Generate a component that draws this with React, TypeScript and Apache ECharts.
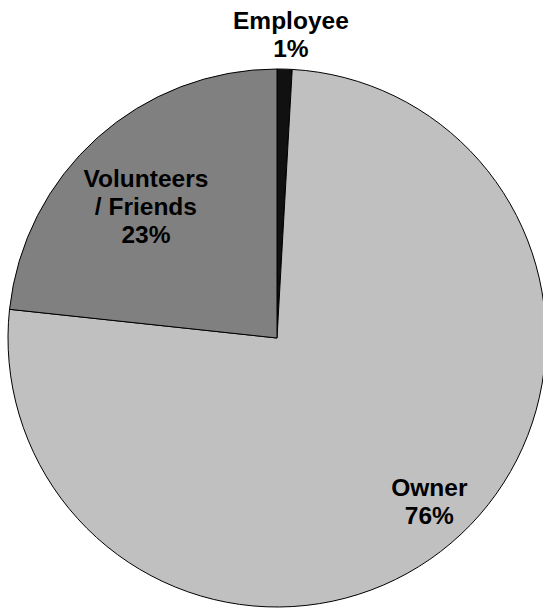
import React, { useEffect, useRef } from 'react';
import * as echarts from 'echarts';

// slice data, clockwise from 12 o'clock
const names = ['Employee', 'Owner', 'Volunteers\n/ Friends'];
const values = [0.9, 75.8, 23.3];
const colors = ['#111111', '#c0c0c0', '#808080'];
// where each label sits: share of the radius, and a small turn off the slice's mid angle
const labelRadius = [1.13, 0.83, 0.69];
const labelTurn = [1, -2.7, -3];

const CX = 277;
const CY = 338;
const R = 269;

const App = () => {
    const chartRef = useRef<HTMLDivElement>(null);

    useEffect(() => {
        const chart = echarts.init(chartRef.current, null, { renderer: 'svg' });

        const total = values.reduce((a, b) => a + b, 0);
        // mid angle of each slice (degrees clockwise from top)
        const midAngles: number[] = [];
        let acc = 0;
        values.forEach((v) => {
            const span = (v / total) * 360;
            midAngles.push(acc + span / 2);
            acc += span;
        });

        chart.setOption({
            animation: false,
            backgroundColor: '#ffffff',
            series: [
                {
                    type: 'pie',
                    center: [CX, CY],
                    radius: R,
                    startAngle: 90,
                    clockwise: true,
                    avoidLabelOverlap: false,
                    itemStyle: { borderColor: '#000000', borderWidth: 1 },
                    label: {
                        show: true,
                        position: 'inside',
                        color: '#000000',
                        fontFamily: 'Liberation Sans, Arial, sans-serif',
                        fontWeight: 'bold',
                        fontSize: 24.5,
                        lineHeight: 28,
                        align: 'center',
                        formatter: (p: any) => p.name + '\n' + Math.round(p.value) + '%',
                    },
                    labelLine: { show: false },
                    labelLayout: (p: any) => {
                        const a = ((midAngles[p.dataIndex] + labelTurn[p.dataIndex]) * Math.PI) / 180;
                        const d = labelRadius[p.dataIndex] * R;
                        return {
                            x: CX + Math.sin(a) * d,
                            y: CY - Math.cos(a) * d,
                            align: 'center',
                            verticalAlign: 'middle',
                        };
                    },
                    data: names.map((name, i) => ({
                        name,
                        value: values[i],
                        itemStyle: { color: colors[i] },
                    })),
                },
            ],
        });

        return () => {
            chart.dispose();
        };
    }, []);

    return (
        <div
            ref={chartRef}
            style={{ position: 'fixed', left: 0, top: 0, width: '543px', height: '609px', backgroundColor: 'white' }}
        />
    );
};

export default App;
